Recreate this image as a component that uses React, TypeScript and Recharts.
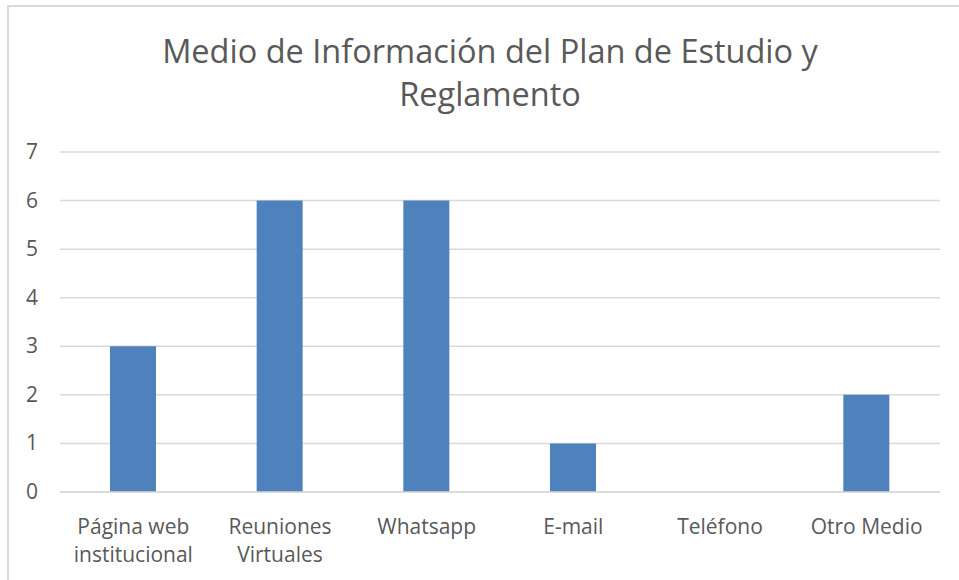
import { Bar, BarChart, CartesianGrid, XAxis, YAxis } from 'recharts'

const CATEGORIES = [
  'Página web\ninstitucional',
  'Reuniones\nVirtuales',
  'Whatsapp',
  'E-mail',
  'Teléfono',
  'Otro Medio',
]
const COUNTS = [3, 6, 6, 1, 0, 2]
const Y_TICKS = [0, 1, 2, 3, 4, 5, 6, 7]
const TITLE_LINES = ['Medio de Información del Plan de Estudio y', 'Reglamento']

const FONT = '"Open Sans", Lato, sans-serif'
const TEXT_COLOR = '#595959'
const GRID_COLOR = '#d9d9d9'
const BAR_COLOR = '#4f81bd'

const data = CATEGORIES.map((name, i) => ({ name, value: COUNTS[i] }))

function XTick(props: any) {
  const { x, y, payload } = props
  const lines = String(payload.value).split('\n')
  return (
    <text
      x={x}
      y={y + 40}
      textAnchor="middle"
      fill={TEXT_COLOR}
      fontSize={21}
      fontFamily={FONT}
    >
      {lines.map((line, i) => (
        <tspan key={i} x={x} dy={i === 0 ? 0 : 28}>
          {line}
        </tspan>
      ))}
    </text>
  )
}

function YTick(props: any) {
  const { y, payload } = props
  return (
    <text
      x={38}
      y={y + 7}
      textAnchor="end"
      fill={TEXT_COLOR}
      fontSize={21}
      fontFamily={FONT}
    >
      {payload.value}
    </text>
  )
}

export default function App() {
  return (
    <div style={{ position: 'absolute', left: 0, top: 0, width: 959, height: 580, background: '#fff' }}>
      <BarChart
        width={959}
        height={580}
        data={data}
        margin={{ top: 152, right: 19, left: 0, bottom: 28 }}
      >
        <CartesianGrid vertical={false} stroke={GRID_COLOR} strokeWidth={1.5} />
        <XAxis
          dataKey="name"
          interval={0}
          height={60}
          tickLine={false}
          axisLine={{ stroke: GRID_COLOR, strokeWidth: 1.5 }}
          tickSize={0}
          tick={<XTick />}
        />
        <YAxis
          domain={[0, 7]}
          ticks={Y_TICKS}
          width={60}
          tickLine={false}
          axisLine={false}
          tickSize={0}
          tick={<YTick />}
        />
        <Bar dataKey="value" fill={BAR_COLOR} barSize={46} isAnimationActive={false} />
      </BarChart>
      <svg
        width={959}
        height={580}
        style={{ position: 'absolute', left: 0, top: 0, pointerEvents: 'none' }}
      >
        <path d="M8 580 V6 H959" fill="none" stroke={GRID_COLOR} strokeWidth={2} />
        {TITLE_LINES.map((line, i) => (
          <text
            key={i}
            x={490}
            y={63 + i * 43}
            textAnchor="middle"
            fill={TEXT_COLOR}
            fontSize={32.5}
            fontFamily={FONT}
          >
            {line}
          </text>
        ))}
      </svg>
    </div>
  )
}
